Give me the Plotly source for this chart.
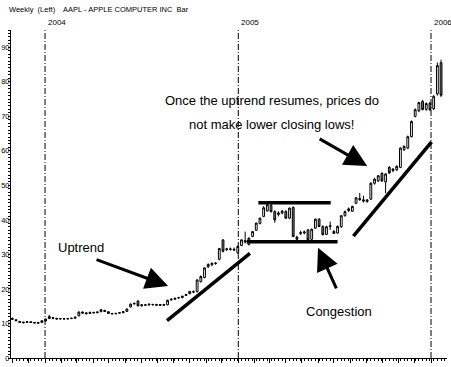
import plotly.graph_objects as go
import pandas as pd

# ---- data (weekly AAPL bars) ----
week_end = pd.date_range("2003-10-31", periods=117, freq="7D")

open_ = [11.5, 11.1, 10.6, 10.4, 10.3, 10.5, 10.1, 10.3, 10.3,
         10.7, 11.4, 11.7, 11.5, 11.3, 11.4, 11.3, 11.4, 11.5, 12.2, 13.3,
         13.1, 12.9, 13.2, 13.1, 13.4, 13.8, 13.4, 12.9, 12.8, 13.0,
         13.1, 13.5, 14.8, 15.8, 16.5, 15.1, 15.4, 15.6, 15.4, 15.5,
         15.2, 15.5, 15.4, 16.8, 17.0, 17.4, 17.5, 18.1, 18.6, 19.2,
         19.2, 22.1, 23.3, 26.4, 27.0, 27.5, 28.6, 34.2, 31.4, 31.6,
         31.5, 30.5, 32.6, 34.0, 32.9, 35.2, 37.0, 39.0, 41.0, 42.6,
         44.2, 42.4, 41.6, 42.0, 42.4, 40.5, 43.6, 35.0, 36.0, 36.2,
         37.1, 34.4, 37.6, 40.2, 38.1, 35.8, 38.1, 36.7, 36.2, 38.0,
         41.2, 42.7, 42.5, 44.8, 46.2, 45.8, 45.3, 46.0, 50.6, 51.3,
         53.5, 51.0, 55.2, 54.3, 54.5, 55.2, 60.3, 60.8, 64.1, 70.0,
         71.6, 74.3, 72.0, 73.8, 72.2, 76.5, 85.5]
high = [11.7, 11.2, 10.7, 10.5, 10.6, 10.6, 10.4, 10.4, 10.9,
        11.4, 12.5, 11.9, 11.6, 11.6, 11.6, 11.6, 11.7, 12.0, 13.5, 13.5,
        13.2, 13.4, 13.4, 13.5, 14.2, 13.9, 13.5, 13.0, 13.1, 13.2,
        13.6, 14.3, 15.8, 16.1, 16.7, 15.6, 15.6, 15.8, 15.7, 15.7,
        15.6, 15.7, 16.9, 17.3, 17.4, 17.7, 18.0, 18.6, 19.4, 19.6,
        22.8, 23.9, 26.3, 27.4, 27.7, 27.8, 31.9, 34.4, 31.9, 32.0,
        32.0, 32.6, 34.4, 36.6, 35.0, 36.8, 39.2, 40.7, 44.0, 44.9,
        44.8, 42.8, 42.5, 42.9, 42.8, 43.6, 43.9, 35.4, 36.9, 36.9,
        37.4, 37.5, 40.4, 40.5, 38.4, 38.3, 39.5, 37.0, 38.4, 41.4,
        42.7, 43.6, 44.1, 46.6, 47.8, 47.0, 46.0, 50.9, 52.2, 53.0,
        53.8, 53.5, 55.6, 55.0, 55.8, 61.0, 61.6, 64.4, 68.8, 72.3,
        74.2, 74.8, 74.0, 74.2, 76.1, 85.6, 86.4]
low = [11.1, 10.7, 10.2, 10.1, 10.2, 10.2, 10.0, 10.0, 10.2,
       10.6, 11.3, 11.2, 11.2, 11.2, 11.2, 11.2, 11.3, 11.4, 12.1, 12.9,
       12.7, 12.8, 12.9, 13.0, 13.3, 13.4, 12.8, 12.6, 12.7, 12.9,
       13.0, 13.4, 14.6, 15.5, 15.0, 14.9, 15.1, 15.3, 15.2, 15.1,
       15.1, 15.1, 15.3, 16.7, 16.9, 17.2, 17.3, 18.0, 18.5, 18.8,
       19.0, 21.9, 23.1, 26.1, 26.6, 27.0, 28.3, 30.6, 31.0, 31.1,
       31.0, 30.2, 32.4, 33.2, 32.6, 35.0, 36.8, 38.7, 40.8, 42.4,
       42.1, 39.2, 41.0, 41.6, 40.3, 40.2, 35.0, 33.7, 35.7, 35.8,
       34.0, 34.1, 37.4, 37.9, 35.5, 35.6, 37.1, 35.9, 36.0, 37.7,
       41.0, 42.3, 42.3, 44.6, 45.5, 45.0, 45.0, 45.8, 50.2, 51.0,
       51.0, 47.7, 53.3, 53.8, 54.2, 55.0, 60.0, 60.5, 63.9, 69.7,
       71.2, 71.7, 71.6, 71.5, 71.8, 76.0, 75.6]
close = [11.2, 10.8, 10.3, 10.2, 10.5, 10.3, 10.3, 10.1, 10.8,
         11.3, 12.0, 11.5, 11.3, 11.4, 11.3, 11.4, 11.5, 11.8, 13.3, 13.0,
         12.8, 13.2, 13.1, 13.3, 14.0, 13.5, 12.9, 12.8, 12.9, 13.1,
         13.4, 14.2, 15.6, 15.7, 15.1, 15.4, 15.3, 15.4, 15.5, 15.3,
         15.5, 15.3, 16.7, 17.0, 17.3, 17.5, 17.9, 18.4, 19.3, 19.1,
         22.6, 23.6, 26.1, 27.1, 27.4, 27.4, 31.7, 30.9, 31.6, 31.5,
         31.3, 32.3, 34.2, 33.6, 34.7, 36.6, 39.1, 40.5, 43.5, 44.4,
         42.4, 40.0, 42.0, 42.5, 40.5, 43.4, 35.2, 34.4, 36.3, 36.5,
         34.2, 37.3, 40.2, 38.1, 35.7, 38.0, 38.3, 36.1, 38.1, 41.2,
         42.4, 43.2, 43.9, 46.4, 45.9, 45.5, 45.8, 50.6, 51.8, 52.8,
         51.3, 53.3, 53.6, 54.7, 55.5, 60.8, 61.3, 64.1, 68.5, 71.9,
         74.0, 72.0, 73.7, 71.9, 75.8, 84.7, 76.1]

y_ticks = [0, 10, 20, 30, 40, 50, 60, 70, 80, 90]
year_marks = ["2004-01-01", "2005-01-01", "2006-01-01"]
year_labels = ["2004", "2005", "2006"]
header = "Weekly  (Left)    AAPL - APPLE COMPUTER INC  Bar"

SMALL = "Liberation Sans Narrow, Arial Narrow, Liberation Sans, Arial"
SANS = "Liberation Sans, Arial, sans-serif"

fig = go.Figure(go.Candlestick(
    x=week_end, open=open_, high=high, low=low, close=close,
    increasing=dict(line=dict(color="black", width=1), fillcolor="white"),
    decreasing=dict(line=dict(color="black", width=1), fillcolor="#7a7a7a"),
    whiskerwidth=0, showlegend=False, hoverinfo="skip"))

shapes = []
for d in year_marks:
    shapes.append(dict(type="line", xref="x", yref="paper", x0=d, x1=d, y0=0, y1=1,
                       line=dict(color="black", width=1, dash="6px,2px,1px,2px")))

# trend / congestion lines
seg = [("2004-08-19", 10.8, "2005-01-23", 30.3),
       ("2005-02-08", 45.0, "2005-06-25", 45.0),
       ("2005-01-17", 33.7, "2005-07-08", 33.7),
       ("2005-08-07", 35.3, "2006-01-02", 62.6)]
for x0, y0, x1, y1 in seg:
    shapes.append(dict(type="line", xref="x", yref="y", x0=x0, y0=y0, x1=x1, y1=y1,
                       line=dict(color="black", width=3.5)))

annotations = [dict(text=header, xref="paper", yref="paper", x=0, y=1, xshift=-4,
                    yshift=21, xanchor="left", yanchor="middle", showarrow=False,
                    font=dict(family=SMALL, size=7.5, color="black"))]
for d, lab in zip(year_marks, year_labels):
    annotations.append(dict(text=lab, xref="x", yref="paper", x=d, y=1, xshift=1,
                            yshift=8, xanchor="left", yanchor="middle", showarrow=False,
                            font=dict(family=SMALL, size=8, color="black")))

txt_font = dict(family=SANS, size=13, color="black")
annotations += [
    dict(text="Once the uptrend resumes, prices do", xref="paper", yref="paper",
         x=(272 - 11) / 436, y=(358 - 101) / 328, xanchor="center", yanchor="middle",
         showarrow=False, font=txt_font),
    dict(text="not make lower closing lows!", xref="paper", yref="paper",
         x=(271 - 11) / 436, y=(358 - 124) / 328, xanchor="center", yanchor="middle",
         showarrow=False, font=txt_font),
    dict(text="Uptrend", xref="paper", yref="paper",
         x=(81 - 11) / 436, y=(358 - 247) / 328, xanchor="center", yanchor="middle",
         showarrow=False, font=txt_font),
    dict(text="Congestion", xref="paper", yref="paper",
         x=(339 - 11) / 436, y=(358 - 311) / 328, xanchor="center", yanchor="middle",
         showarrow=False, font=txt_font),
]
# arrows (tip in data coords, tail as pixel offset)
for tx, ty, ax, ay in [("2004-08-21", 20.85, -73, -27),
                       ("2005-06-01", 31.9, 19, 42),
                       ("2005-09-02", 55.6, -49, -28)]:
    annotations.append(dict(x=tx, y=ty, xref="x", yref="y", ax=ax, ay=ay,
                            axref="pixel", ayref="pixel", text="", showarrow=True,
                            arrowhead=2, arrowsize=1.5, arrowwidth=3, arrowcolor="black"))

fig.update_layout(
    width=451, height=367,
    margin=dict(l=11, r=4, t=30, b=9, pad=0, autoexpand=False),
    paper_bgcolor="white", plot_bgcolor="white",
    shapes=shapes, annotations=annotations,
    xaxis=dict(type="date", range=["2003-10-28 12:00", "2006-01-31 06:00"],
               rangeslider=dict(visible=False), showgrid=False, zeroline=False,
               automargin=False,
               showline=True, linecolor="black", linewidth=1,
               ticks="outside", ticklen=4, tickcolor="black", tickwidth=1,
               dtick="M1", tick0="2003-11-01", showticklabels=False,
               minor=dict(ticks="outside", ticklen=2, dtick=7 * 86400000,
                          tick0="2003-10-31", tickcolor="black", showgrid=False)),
    yaxis=dict(range=[0, 95], tickvals=y_ticks, showgrid=False, zeroline=False,
               automargin=False,
               showline=True, linecolor="black", linewidth=1,
               ticks="outside", ticklen=2, tickcolor="black",
               tickfont=dict(family=SMALL, size=7.5, color="black"),
               ticklabelstandoff=-3,
               minor=dict(ticks="outside", ticklen=2, dtick=1, tickcolor="black",
                          showgrid=False)),
)

fig.write_html("out.html", config={"displayModeBar": False, "staticPlot": True},
               post_script="document.body.style.margin='0';document.body.style.overflow='hidden';")
